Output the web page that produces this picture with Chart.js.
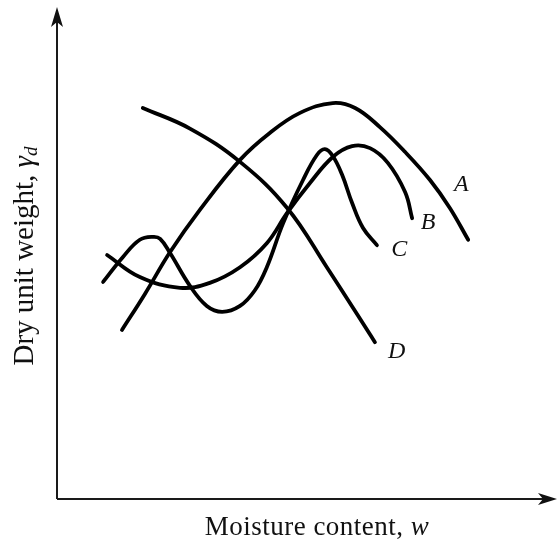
<!DOCTYPE html>
<html>
<head>
<meta charset="utf-8">
<script src="https://cdn.jsdelivr.net/npm/chart.js@4/dist/chart.umd.min.js"></script>
<style>
  html, body { margin: 0; padding: 0; background: #fff; }
  canvas { display: block; }
</style>
</head>
<body>
<canvas id="chart" width="557" height="539"></canvas>
<script>
// relative units: moisture content (x) and dry unit weight (y), 0-100, no ticks in the figure
const curveA_x = [13.1, 17.7, 22.8, 28.8, 36.9, 42.9, 49.0, 55.6, 60.1, 65.1, 70.2, 75.2, 79.2, 82.9];
const curveA_y = [34.3, 41.6, 50.2, 58.8, 69.0, 74.5, 78.6, 80.6, 79.6, 75.7, 70.6, 64.9, 59.2, 52.7];

const curveB_x = [10.1, 16.7, 24.8, 30.8, 36.9, 42.3, 46.4, 51.0, 55.6, 59.5, 63.1, 66.7, 70.2, 71.6];
const curveB_y = [49.6, 45.1, 42.9, 43.9, 47.1, 52.0, 58.2, 64.3, 69.6, 71.8, 71.4, 68.4, 62.4, 57.1];

const curveC_x = [9.3, 13.3, 16.7, 19.4, 20.8, 22.8, 26.8, 30.2, 33.3, 36.9, 39.9, 42.3, 45.6, 49.6, 52.4, 54.0, 55.6, 57.5, 59.5, 61.7, 64.5];
const curveC_y = [44.1, 49.2, 52.7, 53.3, 52.9, 50.0, 43.3, 39.2, 38.0, 39.2, 42.4, 47.1, 56.1, 64.9, 70.0, 71.2, 69.8, 65.9, 60.2, 55.1, 51.6];

const curveD_x = [17.3, 26.8, 36.9, 46.4, 54.4, 64.1];
const curveD_y = [79.6, 75.4, 68.6, 59.2, 47.1, 31.8];

const curveNames = ['A', 'B', 'C', 'D'];
const labelX = [81.5, 74.8, 69.0, 68.5];
const labelY = [63.9, 56.1, 50.6, 29.8];

const xTitle = 'Moisture content, ';
const xSymbol = 'w';
const yTitle = 'Dry unit weight, ';

function pts(xs, ys) {
    return xs.map((x, i) => ({ x: x, y: ys[i] }));
}

const series = [
    pts(curveA_x, curveA_y),
    pts(curveB_x, curveB_y),
    pts(curveC_x, curveC_y),
    pts(curveD_x, curveD_y)
];

const SERIF = '"Liberation Serif", "DejaVu Serif", serif';

// axes with arrow heads, curve letters and axis titles
const figurePlugin = {
    id: 'figure',
    afterDraw(chart) {
        const ctx = chart.ctx;
        const a = chart.chartArea;
        const xs = chart.scales.x, ys = chart.scales.y;
        const x0 = a.left, y0 = a.bottom + 1;

        ctx.save();
        ctx.strokeStyle = '#1a1a1a';
        ctx.fillStyle = '#111';
        ctx.lineWidth = 2;
        ctx.beginPath();
        ctx.moveTo(x0, y0);
        ctx.lineTo(x0, 14);
        ctx.moveTo(x0, y0);
        ctx.lineTo(548, y0);
        ctx.stroke();

        // up arrow
        ctx.beginPath();
        ctx.moveTo(x0, 7);
        ctx.lineTo(x0 + 6, 27);
        ctx.lineTo(x0, 22);
        ctx.lineTo(x0 - 6, 27);
        ctx.closePath();
        ctx.fill();

        // right arrow
        ctx.beginPath();
        ctx.moveTo(557, y0);
        ctx.lineTo(538, y0 - 6);
        ctx.lineTo(543, y0);
        ctx.lineTo(538, y0 + 6);
        ctx.closePath();
        ctx.fill();

        // curve letters
        ctx.font = 'italic 24px ' + SERIF;
        ctx.textAlign = 'center';
        ctx.textBaseline = 'middle';
        curveNames.forEach((n, i) => {
            ctx.fillText(n, xs.getPixelForValue(labelX[i]), ys.getPixelForValue(labelY[i]));
        });

        // x title
        ctx.textBaseline = 'alphabetic';
        ctx.textAlign = 'left';
        ctx.letterSpacing = '0.5px';
        ctx.font = '27px ' + SERIF;
        const xw1 = ctx.measureText(xTitle).width;
        ctx.font = 'italic 27px ' + SERIF;
        const xw2 = ctx.measureText(xSymbol).width;
        let tx = 317 - (xw1 + xw2) / 2;
        ctx.font = '27px ' + SERIF;
        ctx.fillText(xTitle, tx, 535);
        ctx.font = 'italic 27px ' + SERIF;
        ctx.fillText(xSymbol, tx + xw1, 535);

        // y title, rotated
        ctx.translate(33, 256);
        ctx.rotate(-Math.PI / 2);
        ctx.font = '29px ' + SERIF;
        ctx.letterSpacing = '0px';
        const w1 = ctx.measureText(yTitle).width;
        ctx.font = 'italic 29px ' + SERIF;
        const w2 = ctx.measureText('γ').width;
        ctx.font = 'italic 19px ' + SERIF;
        const w3 = ctx.measureText('d').width;
        let sx = -(w1 + w2 + w3) / 2;
        ctx.font = '29px ' + SERIF;
        ctx.fillText(yTitle, sx, 0);
        sx += w1;
        ctx.font = 'italic 29px ' + SERIF;
        ctx.fillText('γ', sx, 0);
        sx += w2;
        ctx.font = 'italic 19px ' + SERIF;
        ctx.fillText('d', sx, 4);
        ctx.restore();
    }
};

new Chart(document.getElementById('chart'), {
    type: 'line',
    data: {
        datasets: series.map((d, i) => ({
            label: curveNames[i],
            data: d,
            borderColor: '#000',
            borderWidth: 3.8,
            pointRadius: 0,
            fill: false,
            tension: 0.4,
            borderCapStyle: 'round',
            borderJoinStyle: 'round'
        }))
    },
    options: {
        responsive: false,
        animation: false,
        events: [],
        layout: { padding: { left: 57, right: 4, top: 8, bottom: 41 } },
        scales: {
            x: { type: 'linear', min: 0, max: 100, display: false },
            y: { type: 'linear', min: 0, max: 100, display: false }
        },
        plugins: {
            legend: { display: false },
            tooltip: { enabled: false }
        }
    },
    plugins: [figurePlugin]
});
</script>
</body>
</html>
